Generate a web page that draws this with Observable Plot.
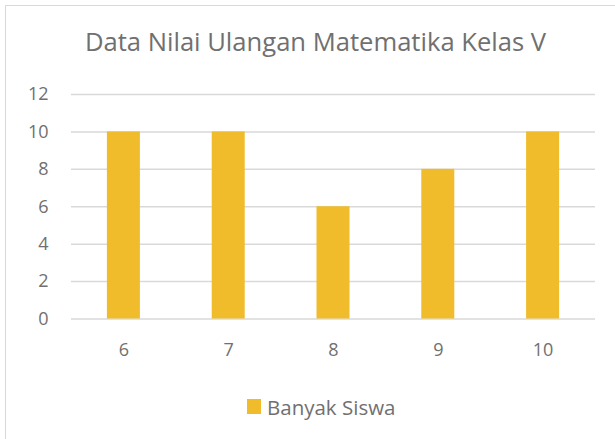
<!DOCTYPE html>
<html>
<head>
<meta charset="utf-8">
<script src="https://cdn.jsdelivr.net/npm/d3@7"></script>
<script src="https://cdn.jsdelivr.net/npm/@observablehq/plot@0.6"></script>
<style>
  html, body { margin: 0; padding: 0; background: #fff; overflow: hidden; }
  #wrap { position: relative; width: 615px; height: 439px; overflow: hidden; font-family: "Open Sans", sans-serif; color: #707070; }
  #frame { position: absolute; left: 5px; top: 5px; width: 700px; height: 600px; border: 1.5px solid #d9d9d9; box-sizing: border-box; pointer-events: none; }
  #title { position: relative; height: 70px; }
  #title span { position: absolute; left: 16px; right: 0; top: 29px; text-align: center; font-size: 25.6px; line-height: 25.6px; white-space: nowrap; }
  #chart { position: relative; height: 300px; }
  #legend { position: relative; height: 69px; }
  #legend .sw { position: absolute; left: 247px; top: 29px; width: 14px; height: 15px; }
  #legend .lb { position: absolute; left: 267px; top: 27px; font-size: 20.5px; line-height: 20px; white-space: nowrap; }
</style>
</head>
<body>
<div id="wrap">
  <div id="title"><span></span></div>
  <div id="chart"></div>
  <div id="legend"><div class="sw"></div><div class="lb"></div></div>
  <div id="frame"></div>
</div>
<script>
const title = "Data Nilai Ulangan Matematika Kelas V";
const seriesName = "Banyak Siswa";
const categories = ["6", "7", "8", "9", "10"];
const values = [10, 10, 6, 8, 10];
const yTicks = [0, 2, 4, 6, 8, 10, 12];
const barColor = "#F0BC2B";

const data = categories.map((c, i) => ({ nilai: c, jumlah: values[i] }));

document.querySelector("#title span").textContent = title;
document.querySelector("#legend .lb").textContent = seriesName;
document.querySelector("#legend .sw").style.background = barColor;

const plot = Plot.plot({
  width: 615,
  height: 300,
  marginLeft: 71,
  marginRight: 20,
  marginTop: 24,
  marginBottom: 51.5,
  style: { fontFamily: "Open Sans, sans-serif", fontSize: "18px", color: "#707070", background: "#fff" },
  x: { domain: categories, paddingInner: 0.685, paddingOuter: 0.3425, round: false, label: null, tickSize: 0, tickPadding: 24.5 },
  y: { domain: [0, 12], ticks: yTicks, label: null, tickSize: 0, tickPadding: 23 },
  marks: [
    Plot.gridY(yTicks, { stroke: "#d9d9d9", strokeOpacity: 1, strokeWidth: 1.5 }),
    Plot.barY(data, { x: "nilai", y: "jumlah", fill: barColor }),
    Plot.axisX({ tickSize: 0, tickPadding: 24.5, fontSize: 18 }),
    Plot.axisY({ ticks: yTicks, tickSize: 0, tickPadding: 23, fontSize: 18 })
  ]
});
document.getElementById("chart").appendChild(plot);
</script>
</body>
</html>
